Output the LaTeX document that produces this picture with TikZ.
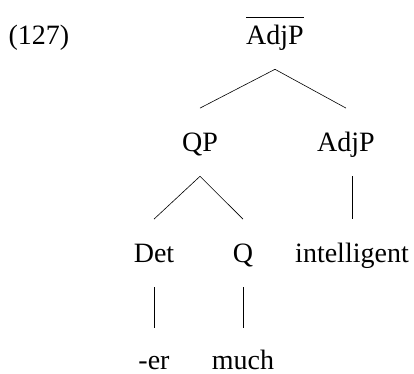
\documentclass[tikz,border=0pt]{standalone}
\usepackage{fontspec}
\setmainfont{Liberation Serif}

\begin{document}
\begin{tikzpicture}[x=1bp,y=-1bp]
\tikzset{
  every node/.style={font=\fontsize{28bp}{34bp}\selectfont},
  every path/.style={line width=.6bp},
  cat/.style={anchor=base,inner xsep=0pt,inner ysep=23bp,text height=19.6bp,text depth=2bp},
  leaf/.style={anchor=base,inner sep=0pt,text height=19.6bp,text depth=0pt},
  branch/.style={draw,black},
  to leaf/.style={branch,shorten >=21bp}
}
\useasboundingbox (0,0) rectangle (414,374);

%NUMBER
\node[anchor=base,inner sep=0pt] (num) at (39,44) {(127)};

%ROOT
\node[cat] (root) at (275,44) {$\overline{\mbox{AdjP}\rule{0pt}{25bp}}$};

%SECOND LEVEL
\node[cat] (QP) at (200,151) {QP};
\node[cat] (AP) at (346,151) {AdjP};

%THIRD LEVEL
\node[cat] (Det) at (154,262) {Det};
\node[cat] (Q) at (243,262) {Q};
\node[cat] (A) at (352,262) {intelligent};

%LEAVES
\node[leaf] (er) at (154,369) {-er};
\node[leaf] (much) at (243,369) {much};

%BRANCHES
\path[branch] (root.south) -- (QP.north);
\path[branch] (root.south) -- (AP.north);
\path[branch] (QP.south) -- (Det.north);
\path[branch] (QP.south) -- (Q.north);
\path[branch] (A.north |- AP.south) -- (A.north);
\path[to leaf] (Det.south) -- (er.north);
\path[to leaf] (Q.south) -- (much.north);

\end{tikzpicture}
\end{document}
